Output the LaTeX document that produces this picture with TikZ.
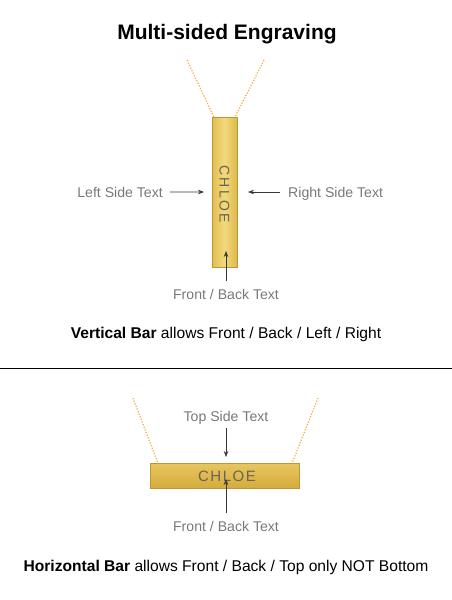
\documentclass[tikz,border=0pt]{standalone}
\usepackage{fontspec}
\setmainfont{Liberation Sans}
\usetikzlibrary{arrows.meta}
\definecolor{labelgray}{RGB}{120,120,120}
\definecolor{arrowgray}{RGB}{55,55,55}
\definecolor{chaingold}{RGB}{240,172,60}
\definecolor{goldA}{RGB}{226,190,82}
\definecolor{goldB}{RGB}{242,218,125}
\definecolor{goldC}{RGB}{222,184,74}
\definecolor{hgoldA}{RGB}{232,198,95}
\definecolor{hgoldB}{RGB}{212,172,62}
\definecolor{goldedge}{RGB}{190,150,50}
\definecolor{engrave}{RGB}{105,100,85}
\tikzset{
  lbl/.style={font=\fontsize{14.1}{16}\selectfont, text=labelgray, inner sep=0pt},
  desc/.style={font=\fontsize{15.6}{18}\selectfont, text=black, inner sep=0pt, anchor=base},
  chain/.style={chaingold, line width=1.2pt, dash pattern=on 1.2pt off 1.6pt},
  pointer/.style={arrowgray, line width=0.7pt, -{Stealth[length=6pt,width=4.5pt]}},
  barshade/.style={draw=goldedge, line width=0.4pt, left color=goldA, right color=goldC, middle color=goldB},
  hbarshade/.style={draw=goldedge, line width=0.4pt, top color=hgoldA, bottom color=hgoldB},
  vengraved/.style={font=\fontsize{14}{16}\selectfont\addfontfeature{LetterSpace=16}, text=engrave, inner sep=0pt},
  hengraved/.style={font=\fontsize{15}{16}\selectfont\addfontfeature{LetterSpace=10}, text=engrave, inner sep=0pt}
}
\begin{document}
\begin{tikzpicture}[x=1pt,y=-1pt]
\useasboundingbox (0,0) rectangle (452,600);
% title
\node[font=\bfseries\fontsize{21}{24}\selectfont, inner sep=0pt, anchor=base] (title) at (227,39.5) {Multi-sided Engraving};

% ---- vertical bar ----
\coordinate (vcl) at (187,60);
\coordinate (vcr) at (264,60);
\node[barshade, minimum width=25pt, minimum height=150pt, inner sep=0pt] (vbar) at (224.5,192) {};
\draw[chain] (vcl) -- ([xshift=2pt]vbar.north west);
\draw[chain] (vcr) -- ([xshift=-2pt]vbar.north east);
\node[vengraved, rotate=-90] (vname) at (224.5,194) {CHLOE};

\node[lbl, anchor=base east] (ltxt) at (163,197) {Left Side Text};
\coordinate (ltip) at (204,192);
\draw[pointer] ([xshift=7pt]ltxt.east) -- (ltip);

\node[lbl, anchor=base west] (rtxt) at (288,197) {Right Side Text};
\coordinate (rtip) at (248,192);
\draw[pointer] (rtxt.west |- rtip) ++(-8,0) -- (rtip);

\node[lbl, anchor=base] (vfb) at (226,299) {Front / Back Text};
\coordinate (vfbtail) at (226,281);
\coordinate (vfbtip) at (226,251);
\draw[pointer] (vfbtail) -- (vfbtip);

\node[desc] (vdesc) at (226,338.5) {\textbf{Vertical Bar} allows Front / Back / Left / Right};

% divider
\coordinate (dl) at (0,368);
\coordinate (dr) at (452,368);
\draw[black, line width=0.8pt] (dl) -- (dr);

% ---- horizontal bar ----
\node[hbarshade, minimum width=149pt, minimum height=25pt, inner sep=0pt] (hbar) at (224.5,475.5) {};
\coordinate (hcl) at (133,398);
\coordinate (hcr) at (318,398);
\draw[chain] (hcl) -- ([xshift=8pt]hbar.north west);
\draw[chain] (hcr) -- ([xshift=-7pt]hbar.north east);
\node[hengraved] (hname) at (227,476) {CHLOE};

\node[lbl, anchor=base] (ttxt) at (226,421) {Top Side Text};
\coordinate (ttail) at (226,428);
\coordinate (ttip) at (226,457);
\draw[pointer] (ttail) -- (ttip);

\node[lbl, anchor=base] (hfb) at (226,531) {Front / Back Text};
\coordinate (hfbtail) at (226,513);
\coordinate (hfbtip) at (226,479);
\draw[pointer] (hfbtail) -- (hfbtip);

\node[desc] (hdesc) at (226,571.5) {\textbf{Horizontal Bar} allows Front / Back / Top only NOT Bottom};
\end{tikzpicture}
\end{document}
